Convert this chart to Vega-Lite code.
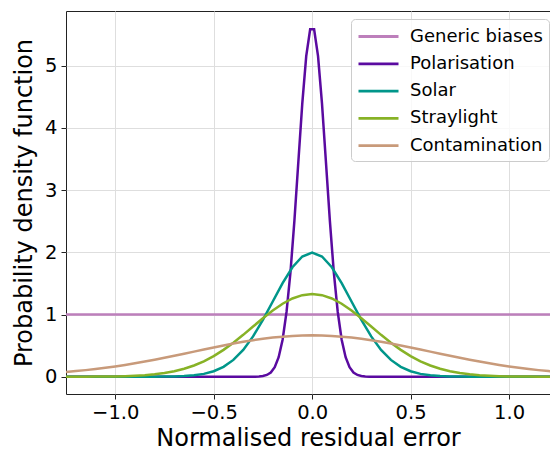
{
  "$schema": "https://vega.github.io/schema/vega-lite/v6.json",
  "autosize": {"type": "none"},
  "width": 484,
  "height": 383,
  "padding": {"left": 66, "top": 11, "right": 0, "bottom": 59},
  "background": "white",
  "data": {"values": [
    {"s":"Generic biases","x":-1.25,"y":1},{"s":"Generic biases","x":1.25,"y":1},
    {"s":"Polarisation","x":-1.25,"y":0},{"s":"Polarisation","x":-0.4,"y":0},{"s":"Polarisation","x":-0.35,"y":0},{"s":"Polarisation","x":-0.33,"y":0.0001},{"s":"Polarisation","x":-0.31,"y":0.0004},{"s":"Polarisation","x":-0.29,"y":0.0013},{"s":"Polarisation","x":-0.27,"y":0.0039},{"s":"Polarisation","x":-0.25,"y":0.0109},{"s":"Polarisation","x":-0.23,"y":0.0284},{"s":"Polarisation","x":-0.21,"y":0.0686},{"s":"Polarisation","x":-0.19,"y":0.153},{"s":"Polarisation","x":-0.17,"y":0.314},{"s":"Polarisation","x":-0.15,"y":0.595},{"s":"Polarisation","x":-0.13,"y":1.041},{"s":"Polarisation","x":-0.11,"y":1.682},{"s":"Polarisation","x":-0.09,"y":2.51},{"s":"Polarisation","x":-0.07,"y":3.456},{"s":"Polarisation","x":-0.05,"y":4.394},{"s":"Polarisation","x":-0.03,"y":5.156},{"s":"Polarisation","x":-0.01,"y":5.586},
    {"s":"Polarisation","x":0.01,"y":5.586},{"s":"Polarisation","x":0.03,"y":5.156},{"s":"Polarisation","x":0.05,"y":4.394},{"s":"Polarisation","x":0.07,"y":3.456},{"s":"Polarisation","x":0.09,"y":2.51},{"s":"Polarisation","x":0.11,"y":1.682},{"s":"Polarisation","x":0.13,"y":1.041},{"s":"Polarisation","x":0.15,"y":0.595},{"s":"Polarisation","x":0.17,"y":0.314},{"s":"Polarisation","x":0.19,"y":0.153},{"s":"Polarisation","x":0.21,"y":0.0686},{"s":"Polarisation","x":0.23,"y":0.0284},{"s":"Polarisation","x":0.25,"y":0.0109},{"s":"Polarisation","x":0.27,"y":0.0039},{"s":"Polarisation","x":0.29,"y":0.0013},{"s":"Polarisation","x":0.31,"y":0.0004},{"s":"Polarisation","x":0.33,"y":0.0001},{"s":"Polarisation","x":0.35,"y":0},{"s":"Polarisation","x":0.4,"y":0},{"s":"Polarisation","x":1.25,"y":0},
    {"s":"Solar","x":-1.25,"y":0},{"s":"Solar","x":-0.95,"y":0},{"s":"Solar","x":-0.9,"y":0.0001},{"s":"Solar","x":-0.85,"y":0.0002},{"s":"Solar","x":-0.8,"y":0.0007},{"s":"Solar","x":-0.75,"y":0.0018},{"s":"Solar","x":-0.7,"y":0.0044},{"s":"Solar","x":-0.65,"y":0.0101},{"s":"Solar","x":-0.6,"y":0.0222},{"s":"Solar","x":-0.55,"y":0.0455},{"s":"Solar","x":-0.5,"y":0.0876},{"s":"Solar","x":-0.45,"y":0.1587},{"s":"Solar","x":-0.4,"y":0.27},{"s":"Solar","x":-0.35,"y":0.4314},{"s":"Solar","x":-0.3,"y":0.6476},{"s":"Solar","x":-0.25,"y":0.9132},{"s":"Solar","x":-0.2,"y":1.2098},{"s":"Solar","x":-0.15,"y":1.5057},{"s":"Solar","x":-0.1,"y":1.7603},{"s":"Solar","x":-0.05,"y":1.9333},{"s":"Solar","x":0,"y":1.9947},
    {"s":"Solar","x":0.05,"y":1.9333},{"s":"Solar","x":0.1,"y":1.7603},{"s":"Solar","x":0.15,"y":1.5057},{"s":"Solar","x":0.2,"y":1.2098},{"s":"Solar","x":0.25,"y":0.9132},{"s":"Solar","x":0.3,"y":0.6476},{"s":"Solar","x":0.35,"y":0.4314},{"s":"Solar","x":0.4,"y":0.27},{"s":"Solar","x":0.45,"y":0.1587},{"s":"Solar","x":0.5,"y":0.0876},{"s":"Solar","x":0.55,"y":0.0455},{"s":"Solar","x":0.6,"y":0.0222},{"s":"Solar","x":0.65,"y":0.0101},{"s":"Solar","x":0.7,"y":0.0044},{"s":"Solar","x":0.75,"y":0.0018},{"s":"Solar","x":0.8,"y":0.0007},{"s":"Solar","x":0.85,"y":0.0002},{"s":"Solar","x":0.9,"y":0.0001},{"s":"Solar","x":0.95,"y":0},{"s":"Solar","x":1.25,"y":0},
    {"s":"Straylight","x":-1.25,"y":0.0002},{"s":"Straylight","x":-1.2,"y":0.0004},{"s":"Straylight","x":-1.15,"y":0.0009},{"s":"Straylight","x":-1.1,"y":0.0016},{"s":"Straylight","x":-1.05,"y":0.0029},{"s":"Straylight","x":-1.0,"y":0.0051},{"s":"Straylight","x":-0.95,"y":0.0088},{"s":"Straylight","x":-0.9,"y":0.0148},{"s":"Straylight","x":-0.85,"y":0.024},{"s":"Straylight","x":-0.8,"y":0.038},{"s":"Straylight","x":-0.75,"y":0.0584},{"s":"Straylight","x":-0.7,"y":0.0874},{"s":"Straylight","x":-0.65,"y":0.1272},{"s":"Straylight","x":-0.6,"y":0.18},{"s":"Straylight","x":-0.55,"y":0.2477},{"s":"Straylight","x":-0.5,"y":0.3316},{"s":"Straylight","x":-0.45,"y":0.4317},{"s":"Straylight","x":-0.4,"y":0.5467},{"s":"Straylight","x":-0.35,"y":0.6733},{"s":"Straylight","x":-0.3,"y":0.8066},{"s":"Straylight","x":-0.25,"y":0.9397},{"s":"Straylight","x":-0.2,"y":1.0648},{"s":"Straylight","x":-0.15,"y":1.1736},{"s":"Straylight","x":-0.1,"y":1.258},{"s":"Straylight","x":-0.05,"y":1.3115},{"s":"Straylight","x":0,"y":1.3298},
    {"s":"Straylight","x":0.05,"y":1.3115},{"s":"Straylight","x":0.1,"y":1.258},{"s":"Straylight","x":0.15,"y":1.1736},{"s":"Straylight","x":0.2,"y":1.0648},{"s":"Straylight","x":0.25,"y":0.9397},{"s":"Straylight","x":0.3,"y":0.8066},{"s":"Straylight","x":0.35,"y":0.6733},{"s":"Straylight","x":0.4,"y":0.5467},{"s":"Straylight","x":0.45,"y":0.4317},{"s":"Straylight","x":0.5,"y":0.3316},{"s":"Straylight","x":0.55,"y":0.2477},{"s":"Straylight","x":0.6,"y":0.18},{"s":"Straylight","x":0.65,"y":0.1272},{"s":"Straylight","x":0.7,"y":0.0874},{"s":"Straylight","x":0.75,"y":0.0584},{"s":"Straylight","x":0.8,"y":0.038},{"s":"Straylight","x":0.85,"y":0.024},{"s":"Straylight","x":0.9,"y":0.0148},{"s":"Straylight","x":0.95,"y":0.0088},{"s":"Straylight","x":1.0,"y":0.0051},{"s":"Straylight","x":1.05,"y":0.0029},{"s":"Straylight","x":1.1,"y":0.0016},{"s":"Straylight","x":1.15,"y":0.0009},{"s":"Straylight","x":1.2,"y":0.0004},{"s":"Straylight","x":1.25,"y":0.0002},
    {"s":"Contamination","x":-1.25,"y":0.0759},{"s":"Contamination","x":-1.2,"y":0.09},{"s":"Contamination","x":-1.15,"y":0.1059},{"s":"Contamination","x":-1.1,"y":0.1238},{"s":"Contamination","x":-1.05,"y":0.1438},{"s":"Contamination","x":-1.0,"y":0.1658},{"s":"Contamination","x":-0.95,"y":0.1898},{"s":"Contamination","x":-0.9,"y":0.2159},{"s":"Contamination","x":-0.85,"y":0.2438},{"s":"Contamination","x":-0.8,"y":0.2733},{"s":"Contamination","x":-0.75,"y":0.3044},{"s":"Contamination","x":-0.7,"y":0.3367},{"s":"Contamination","x":-0.65,"y":0.3698},{"s":"Contamination","x":-0.6,"y":0.4033},{"s":"Contamination","x":-0.55,"y":0.4368},{"s":"Contamination","x":-0.5,"y":0.4698},{"s":"Contamination","x":-0.45,"y":0.5019},{"s":"Contamination","x":-0.4,"y":0.5324},{"s":"Contamination","x":-0.35,"y":0.5609},{"s":"Contamination","x":-0.3,"y":0.5868},{"s":"Contamination","x":-0.25,"y":0.6096},{"s":"Contamination","x":-0.2,"y":0.629},{"s":"Contamination","x":-0.15,"y":0.6444},{"s":"Contamination","x":-0.1,"y":0.6557},{"s":"Contamination","x":-0.05,"y":0.6626},{"s":"Contamination","x":0,"y":0.6649},
    {"s":"Contamination","x":0.05,"y":0.6626},{"s":"Contamination","x":0.1,"y":0.6557},{"s":"Contamination","x":0.15,"y":0.6444},{"s":"Contamination","x":0.2,"y":0.629},{"s":"Contamination","x":0.25,"y":0.6096},{"s":"Contamination","x":0.3,"y":0.5868},{"s":"Contamination","x":0.35,"y":0.5609},{"s":"Contamination","x":0.4,"y":0.5324},{"s":"Contamination","x":0.45,"y":0.5019},{"s":"Contamination","x":0.5,"y":0.4698},{"s":"Contamination","x":0.55,"y":0.4368},{"s":"Contamination","x":0.6,"y":0.4033},{"s":"Contamination","x":0.65,"y":0.3698},{"s":"Contamination","x":0.7,"y":0.3367},{"s":"Contamination","x":0.75,"y":0.3044},{"s":"Contamination","x":0.8,"y":0.2733},{"s":"Contamination","x":0.85,"y":0.2438},{"s":"Contamination","x":0.9,"y":0.2159},{"s":"Contamination","x":0.95,"y":0.1898},{"s":"Contamination","x":1.0,"y":0.1658},{"s":"Contamination","x":1.05,"y":0.1438},{"s":"Contamination","x":1.1,"y":0.1238},{"s":"Contamination","x":1.15,"y":0.1059},{"s":"Contamination","x":1.2,"y":0.09},{"s":"Contamination","x":1.25,"y":0.0759}
  ]},
  "mark": {"type": "line", "strokeWidth": 2.5, "clip": true},
  "encoding": {
    "x": {"field": "x", "type": "quantitative",
      "scale": {"domain": [-1.25, 1.208], "nice": false, "zero": false},
      "axis": {"title": "Normalised residual error", "values": [-1, -0.5, 0, 0.5, 1], "format": ".1f", "titlePadding": 5}},
    "y": {"field": "y", "type": "quantitative",
      "scale": {"domain": [-0.278, 5.88], "nice": false, "zero": false},
      "axis": {"title": "Probability density function", "values": [0, 1, 2, 3, 4, 5], "format": "d", "titlePadding": 8}},
    "color": {"field": "s", "type": "nominal",
      "scale": {"domain": ["Generic biases", "Polarisation", "Solar", "Straylight", "Contamination"],
                "range": ["#bd7fbb", "#5a0aa0", "#00968a", "#87b226", "#c89a7a"]},
      "legend": {"title": null, "orient": "none", "legendX": 285, "legendY": 8}}
  },
  "config": {
    "font": "DejaVu Sans",
    "view": {"stroke": "#222222", "strokeWidth": 1},
    "axis": {
      "domain": false,
      "grid": true, "gridColor": "#dedede", "gridWidth": 1,
      "ticks": true, "tickSize": 5, "tickColor": "#222222", "tickWidth": 1,
      "labelFontSize": 19.5, "labelColor": "#000000", "labelPadding": 4,
      "titleFontSize": 24, "titleFontWeight": "normal", "titleColor": "#000000"
    },
    "legend": {
      "symbolType": "M-2,0H2", "symbolStrokeWidth": 2.8, "symbolSize": 400, "symbolOffset": 10,
      "labelFontSize": 18, "labelColor": "#000000", "labelOffset": 20,
      "rowPadding": 6.3, "padding": 6,
      "strokeColor": "#cccccc", "fillColor": "rgba(255,255,255,0.8)", "cornerRadius": 4
    }
  }
}
